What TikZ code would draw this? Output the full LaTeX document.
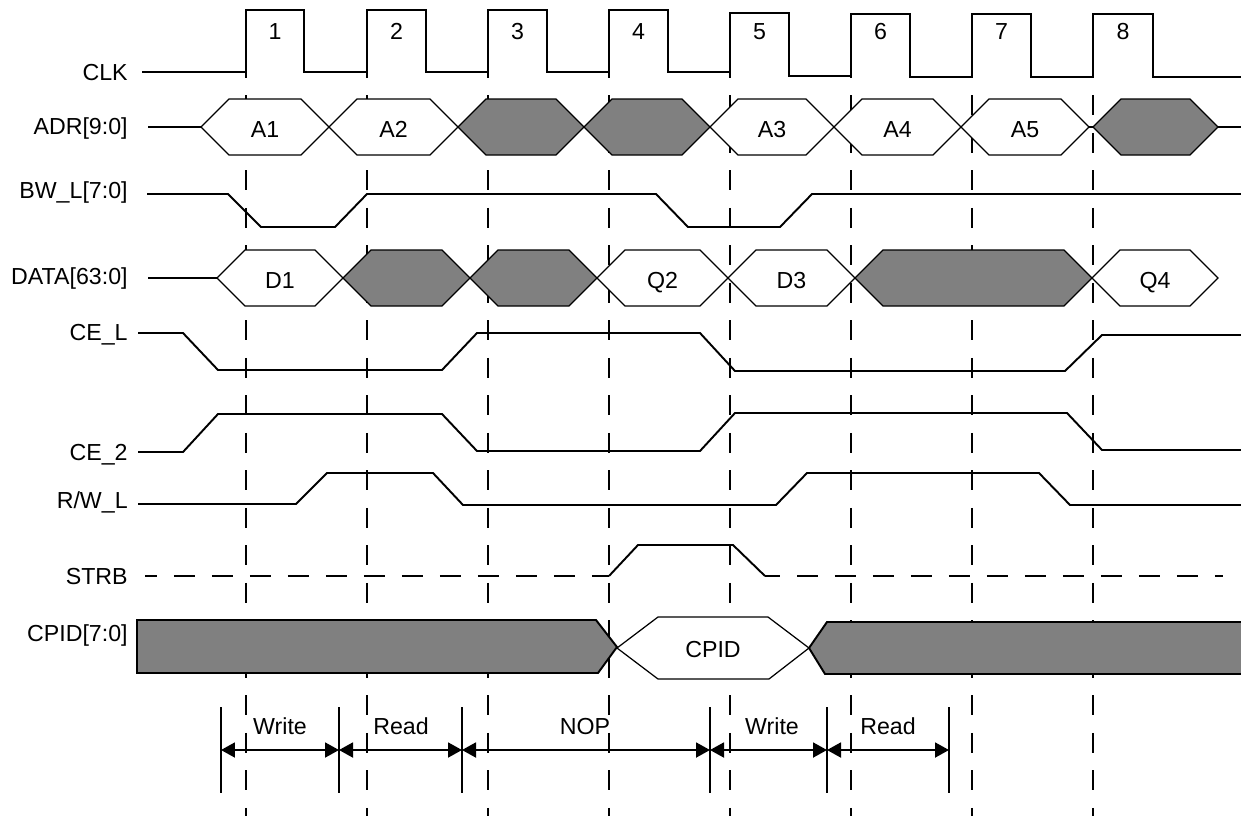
\documentclass[tikz,border=0pt]{standalone}
\usepackage{fontspec}
\setmainfont{Liberation Sans}
\usetikzlibrary{arrows.meta}
\definecolor{busgray}{RGB}{128,128,128}
\newcommand{\hexbus}[6]{%
  \filldraw[bus, fill=#4] (#1,#3) -- ({#1+28},{#3-28}) -- ({#2-28},{#3-28}) -- (#2,#3) -- ({#2-28},{#3+28}) -- ({#1+28},{#3+28}) -- cycle;
  \node[lbl] (#6) at ({(#1+#2)/2},{#3+10.5}) {#5};}
\newcommand{\hexgray}[3]{%
  \filldraw[bus, fill=busgray] (#1,#3) -- ({#1+28},{#3-28}) -- ({#2-28},{#3-28}) -- (#2,#3) -- ({#2-28},{#3+28}) -- ({#1+28},{#3+28}) -- cycle;}
\begin{document}
\begin{tikzpicture}[x=0.02cm, y=-0.02cm,
  font=\fontsize{13.2}{16}\selectfont,
  sig/.style={line width=1.1pt},
  bus/.style={line width=0.7pt},
  gridline/.style={line width=1.1pt, dash pattern=on 0.4cm off 0.35cm},
  strbdash/.style={line width=1.1pt, dash pattern=on 0.42cm off 0.34cm},
  lbl/.style={anchor=base, inner sep=0pt},
  sname/.style={anchor=base east, inner sep=0pt},
  bar/.style={line width=1.1pt},
  span/.style={line width=1.1pt, {Triangle[length=0.28cm,width=0.3cm]}-{Triangle[length=0.28cm,width=0.3cm]}}]
\useasboundingbox (0,0) rectangle (1241,816);
% clock grid
\foreach \gx in {246,367,488,609,730,851,972,1093}
  \draw[gridline] (\gx,20.5) -- (\gx,816);
% signal names
\node[sname] (nclk) at (128,80) {CLK};
\node[sname] (nadr) at (128,134) {ADR[9:0]};
\node[sname] (nbw) at (128,198) {BW\_L[7:0]};
\node[sname] (ndata) at (128,284) {DATA[63:0]};
\node[sname] (ncel) at (128,340) {CE\_L};
\node[sname] (nce2) at (128,460) {CE\_2};
\node[sname] (nrw) at (128,508) {R/W\_L};
\node[sname] (nstrb) at (128,584) {STRB};
\node[sname] (ncpid) at (128,641) {CPID[7:0]};
% CLK
\draw[sig] (142,72) -- (246,72) -- (246,10) -- (304,10) -- (304,72) -- (367,72) -- (367,10) -- (426,10) -- (426,72)
  -- (488,72) -- (488,10) -- (547,10) -- (547,72) -- (609,72) -- (609,10) -- (668,10) -- (668,72)
  -- (730,72) -- (730,13) -- (789,13) -- (789,76) -- (851,76) -- (851,14) -- (910,14) -- (910,77)
  -- (972,77) -- (972,14) -- (1031,14) -- (1031,77) -- (1093,77) -- (1093,14) -- (1153,14) -- (1153,77) -- (1241,77);
\foreach \cx/\cn in {275/1,396.5/2,517.5/3,638.5/4,759.5/5,880.5/6,1001.5/7,1123/8}
  \node[lbl] (clk\cn) at (\cx,39) {\cn};
% ADR
\draw[sig] (148,127) -- (201,127);
\hexbus{201}{329}{127}{white}{A1}{a1}
\hexbus{329}{458}{127}{white}{A2}{a2}
\hexgray{458}{584}{127}
\hexgray{584}{710}{127}
\hexbus{710}{834}{127}{white}{A3}{a3}
\hexbus{834}{961}{127}{white}{A4}{a4}
\hexbus{961}{1089}{127}{white}{A5}{a5}
\draw[bus] (1089,127) -- (1093,127);
\hexgray{1093}{1218}{127}
\draw[sig] (1218,127) -- (1241,127);
% BW_L
\draw[sig] (147,194) -- (228,194) -- (261,227) -- (335,227) -- (367,194) -- (656,194) -- (688,227) -- (780,227) -- (812,194) -- (1241,194);
% DATA
\draw[sig] (148,278) -- (217,278);
\hexbus{217}{343}{278}{white}{D1}{d1}
\hexgray{343}{470}{278}
\hexgray{470}{597}{278}
\hexbus{597}{728}{278}{white}{Q2}{q2}
\hexbus{728}{855}{278}{white}{D3}{d3}
\hexgray{855}{1092}{278}
\hexbus{1092}{1218}{278}{white}{Q4}{q4}
% CE_L
\draw[sig] (138,333) -- (183,333) -- (218,370) -- (442,370) -- (477,333) -- (700,333) -- (735,371) -- (1065,371) -- (1102,335) -- (1241,335);
% CE_2
\draw[sig] (138,452) -- (183,452) -- (218,414) -- (442,414) -- (477,451) -- (700,451) -- (735,413) -- (1067,413) -- (1102,450) -- (1241,450);
% R/W_L
\draw[sig] (138,504) -- (296,504) -- (327,473) -- (433,473) -- (463,505) -- (776,505) -- (807,473) -- (1039,473) -- (1070,505) -- (1241,505);
% STRB
\draw[strbdash, dash phase=0.18cm] (145,576) -- (609,576);
\draw[sig] (609,576) -- (638,545) -- (733,545) -- (765,576);
\draw[strbdash, dash phase=0.12cm] (765,576) -- (1223,576);
% CPID
\filldraw[sig, fill=busgray] (137,620) -- (596,620) -- (617,647) -- (598,673) -- (137,673) -- cycle;
\filldraw[bus, fill=white] (617,648) -- (658,617) -- (768,617) -- (809,648) -- (769,679) -- (658,679) -- cycle;
\node[lbl] (cpid) at (713,657) {CPID};
\filldraw[sig, fill=busgray] (1241,622) -- (827,622) -- (809,648) -- (825,674) -- (1241,674);
% bottom spans
\foreach \bx [count=\bi] in {221,339,462,710,827,949} {
  \draw[bar] (\bx,707) -- (\bx,793);
  \coordinate (b\bi) at (\bx,750);
}
\draw[span] (b1) -- (b2);
\draw[span] (b2) -- (b3);
\draw[span] (b3) -- (b4);
\draw[span] (b4) -- (b5);
\draw[span] (b5) -- (b6);
\node[lbl] (w1) at (280,734) {Write};
\node[lbl] (r1) at (401,734) {Read};
\node[lbl] (nop) at (585,734) {NOP};
\node[lbl] (w2) at (772,734) {Write};
\node[lbl] (r2) at (888,734) {Read};
\end{tikzpicture}
\end{document}
